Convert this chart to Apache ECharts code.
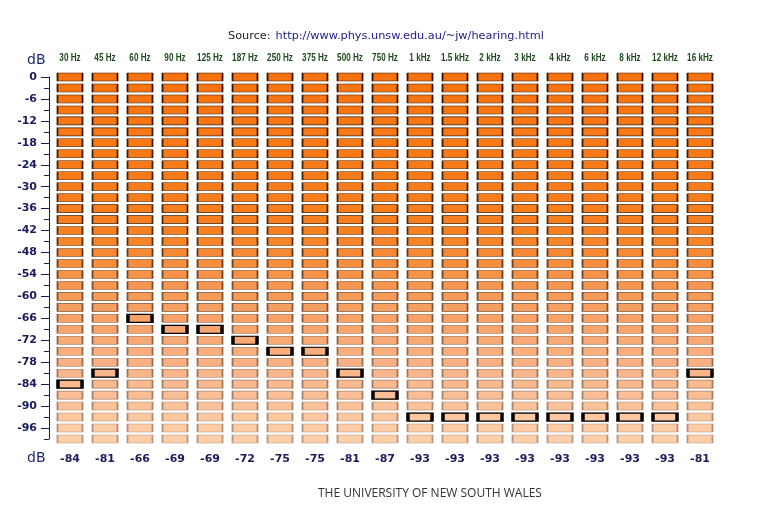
<!DOCTYPE html>
<html>
<head>
<meta charset="utf-8">
<script src="https://cdn.jsdelivr.net/npm/echarts@6/dist/echarts.min.js"></script>
<style>
html,body{margin:0;padding:0;background:#fff;}
#chart{width:763px;height:515px;}
</style>
</head>
<body>
<div id="chart"></div>
<script>
const frequencies = ['30 Hz','45 Hz','60 Hz','90 Hz','125 Hz','187 Hz','250 Hz','375 Hz','500 Hz','750 Hz','1 kHz','1.5 kHz','2 kHz','3 kHz','4 kHz','6 kHz','8 kHz','12 kHz','16 kHz'];
const thresholds = [-84,-81,-66,-69,-69,-72,-75,-75,-81,-87,-93,-93,-93,-93,-93,-93,-93,-93,-81];
const dBLevels = [0,-3,-6,-9,-12,-15,-18,-21,-24,-27,-30,-33,-36,-39,-42,-45,-48,-51,-54,-57,-60,-63,-66,-69,-72,-75,-78,-81,-84,-87,-90,-93,-96,-99];
const sourceLabel = 'Source:';
const sourceUrl = 'http://www.phys.unsw.edu.au/~jw/hearing.html';
const footer = 'THE UNIVERSITY OF NEW SOUTH WALES';
const unit = 'dB';

// colour ramps (style)
const fillStops = [[0,'#F8730F'],[0.42,'#F7801F'],[0.6,'#F79A58'],[0.8,'#F9B387'],[1,'#FFCFAA']];
const borderStops = [[0,'#2E1200'],[0.42,'#4A2A10'],[0.6,'#7A5030'],[1,'#B39480']];
function hex(c){return [parseInt(c.slice(1,3),16),parseInt(c.slice(3,5),16),parseInt(c.slice(5,7),16)];}
function ramp(stops,t){
  for(let k=0;k<stops.length-1;k++){
    const [t0,c0]=stops[k],[t1,c1]=stops[k+1];
    if(t<=t1){
      const f=(t-t0)/(t1-t0), a=hex(c0), b=hex(c1);
      return 'rgb('+a.map((v,j)=>Math.round(v+(b[j]-v)*f)).join(',')+')';
    }
  }
  return stops[stops.length-1][1];
}

const cells = [];
frequencies.forEach((f)=>{
  dBLevels.forEach((lv,ri)=>{
    const t = ri/(dBLevels.length-1);
    cells.push({value:[f,String(lv)],itemStyle:{color:ramp(fillStops,t),borderColor:ramp(borderStops,t),borderWidth:1,opacity:1}});
  });
});
const marks = frequencies.map((f,i)=>[f,String(thresholds[i])]);

const navy = '#1a1a5c';
const everySix = (i,v)=>Number(v)%6===0;

const chart = echarts.init(document.getElementById('chart'));
chart.setOption({
  animation:false,
  backgroundColor:'#fff',
  title:[
    {text:'{a|'+sourceLabel+'} {b|'+sourceUrl+'}',left:228,top:27,padding:0,
     textStyle:{fontWeight:'normal',rich:{a:{fontFamily:'DejaVu Sans',fontSize:11.3,fontWeight:'normal',color:'#222'},b:{fontFamily:'DejaVu Sans',fontSize:11.3,fontWeight:'normal',color:'#1a1a8c'}}}},
    {text:footer,left:318,top:488,padding:0,textStyle:{fontFamily:'Open Sans',fontSize:12,fontWeight:'normal',color:'#333'}},
    {text:unit,left:27,top:53,padding:0,textStyle:{fontFamily:'DejaVu Sans',fontSize:14,fontWeight:'normal',color:'#1d2a70'}},
    {text:unit,left:27,top:451,padding:0,textStyle:{fontFamily:'DejaVu Sans',fontSize:14,fontWeight:'normal',color:'#1d2a70'}}
  ],
  grid:{left:52.5,right:45.5,top:77,bottom:76,containLabel:false},
  xAxis:[
    {type:'category',position:'top',data:frequencies,boundaryGap:true,
     axisLine:{show:false},axisTick:{show:false},splitLine:{show:false},
     axisLabel:{show:false}},
    {type:'category',position:'bottom',data:frequencies,boundaryGap:true,
     axisLine:{show:false},axisTick:{show:false},splitLine:{show:false},
     axisLabel:{interval:0,margin:15,fontFamily:'DejaVu Sans',fontWeight:'bold',fontSize:11,color:navy,
       formatter:(v,i)=>String(thresholds[i])}}
  ],
  yAxis:[
    {type:'category',position:'left',offset:3.5,data:dBLevels.map(String),inverse:true,boundaryGap:false,
     axisLine:{show:true,lineStyle:{color:navy,width:1}},
     axisTick:{show:true,interval:0,length:5,lineStyle:{color:navy}},
     axisLabel:{show:false},splitLine:{show:false}},
    {type:'category',position:'left',offset:3.5,data:dBLevels.map(String),inverse:true,boundaryGap:false,
     axisLine:{show:false},
     axisTick:{show:true,interval:everySix,length:8,lineStyle:{color:navy}},
     axisLabel:{show:true,interval:everySix,margin:12,fontFamily:'DejaVu Sans',fontWeight:'bold',fontSize:11,color:navy},
     splitLine:{show:false}}
  ],
  series:[
    {type:'scatter',xAxisIndex:0,yAxisIndex:0,symbol:'rect',symbolSize:[25,8],clip:false,
     data:cells,itemStyle:{opacity:1},emphasis:{disabled:true},z:2},
    {type:'scatter',xAxisIndex:0,yAxisIndex:0,symbol:'rect',symbolSize:[24,8],clip:false,
     data:marks,itemStyle:{color:'rgba(0,0,0,0)',borderColor:'#000',borderWidth:2,opacity:1},emphasis:{disabled:true},z:3}
  ]
});

// condensed frequency labels above each column, positioned from the x axis
const freqLabels = frequencies.map((f)=>{
  const p = chart.convertToPixel({xAxisIndex:0,yAxisIndex:0},[f,String(dBLevels[0])]);
  return {type:'text',x:p[0],y:p[1]-19,scaleX:0.74,silent:true,
    style:{text:f,align:'center',verticalAlign:'middle',font:'bold 11px "Liberation Sans"',fill:'#1e4a1e'}};
});
chart.setOption({graphic:freqLabels});
</script>
</body>
</html>
